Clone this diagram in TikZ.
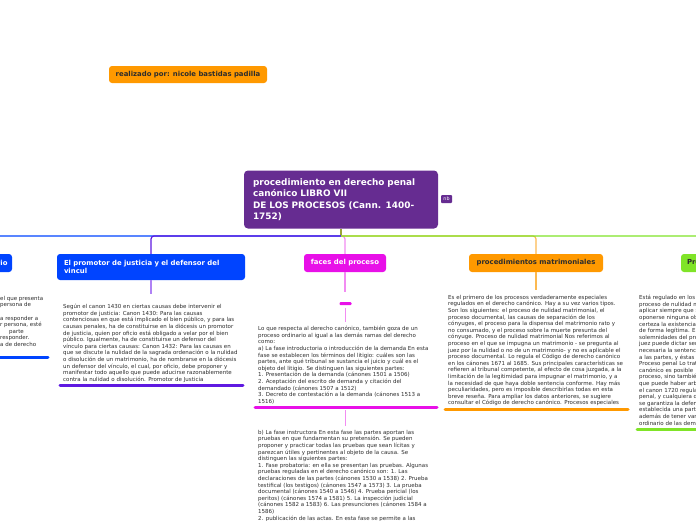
\documentclass[tikz,border=0pt]{standalone}
\usepackage{fontspec}
\setmainfont{DejaVu Sans}
\definecolor{cpurple}{RGB}{102,44,145}
\definecolor{colive}{RGB}{155,165,55}
\definecolor{cblue}{RGB}{0,68,255}
\definecolor{cviolet}{RGB}{95,25,225}
\definecolor{cviolight}{RGB}{175,130,245}
\definecolor{cmag}{RGB}{232,16,232}
\definecolor{cpink}{RGB}{242,140,242}
\definecolor{corange}{RGB}{255,153,0}
\definecolor{corlight}{RGB}{252,185,80}
\definecolor{cgreen}{RGB}{128,228,40}
\definecolor{ctext}{RGB}{45,45,45}
\tikzset{
  topic/.style={rounded corners=3pt, inner sep=0pt, font=\bfseries\fontsize{6.9}{8.4}\selectfont},
  body/.style={anchor=north west, inner sep=0pt, align=left, text=ctext, font=\fontsize{5.5}{6.6}\selectfont},
  conn/.style={line width=1.2pt, rounded corners=3pt},
  uline/.style={line width=3pt, line cap=round},
  stub/.style={line width=1.6pt},
}
\begin{document}
\begin{tikzpicture}[x=1pt,y=-1pt]
\useasboundingbox (0,0) rectangle (696,520);
\clip (0,0) rectangle (696,520);
\fill[white] (0,0) rectangle (696,520);

% author
\node[topic, fill=corange, text=ctext, minimum width=158pt, minimum height=17pt] (author) at (188,74.5) {realizado por: nicole bastidas padilla};

% root
\node[fill=cpurple, rounded corners=4pt, minimum width=194pt, minimum height=58pt, text width=176pt, inner xsep=9pt, inner ysep=0pt, align=left, text=white, font=\bfseries\fontsize{8.9}{11.4}\selectfont] (root) at (341,199.5) {procedimiento en derecho penal\\canónico LIBRO VII\\DE LOS PROCESOS (Cann. 1400-\\1752)};
\node[fill=cpurple, rounded corners=1pt, text=white, font=\fontsize{4.8}{5}\selectfont, inner sep=0pt, minimum width=11pt, minimum height=8pt] (nb) at (446.5,199) {nb};

% topics
\node[topic, fill=cblue, text=white, minimum width=104pt, minimum height=18pt, text width=95pt, inner xsep=4.5pt, align=right] (lnode) at (-40,263) {Proceso ordinario};
\node[topic, fill=cblue, text=white, minimum width=188pt, minimum height=26pt, text width=174pt, inner xsep=7pt, align=left] (promo) at (151,267) {El promotor de justicia y el defensor del\\vincul};
\node[topic, fill=cmag, text=white, minimum width=82pt, minimum height=18pt] (faces) at (345,263) {faces del proceso};
\node[topic, fill=corange, text=ctext, minimum width=134pt, minimum height=18pt] (matri) at (536,263) {procedimientos matrimoniales};
\node[topic, fill=cgreen, text=ctext, minimum width=109pt, minimum height=18pt, text width=97pt, inner xsep=6pt, align=left] (espec) at (735.5,263) {Procesos especiales};

% hub and connectors
\coordinate (hub) at (341,236);
\draw[colive, line width=1.6pt] (root.south) -- (hub);
\draw[conn, cblue] (hub) -| (lnode.north);
\draw[conn, cviolet] (hub) -| (promo.north);
\draw[conn, cpink] (hub) -| (faces.north);
\draw[conn, corlight] (hub) -| (matri.north);
\draw[conn, cgreen] (hub) -| (espec.north);

% notes connectors
\coordinate (pe) at (151,294);
\draw[stub, cviolight] (promo.south) -- (pe);
\coordinate (fe) at (345,292);
\draw[stub, cpink] (faces.south) -- (fe);
\node[fill=cmag, rounded corners=1pt, minimum width=12pt, minimum height=3pt, inner sep=0pt] (fbar) at (345.5,303.5) {};
\coordinate (fe2) at (345.5,322);
\draw[stub, cpink] (fbar.south) ++(0,3) -- (fe2);
\coordinate (me) at (536,290);
\draw[stub, corlight] (matri.south) -- (me);

% left text
\node[body] (ltext) at (0,296) {el que presenta\\persona de\\[6.6pt]a responder a\\r persona, esté\\\hspace*{9pt}parte\\responder.\\a de derecho};
\draw[uline, cblue] (-10,357) -- (48,357);

% promotor text
\node[body] (ptext) at (63,304) {Según el canon 1430 en ciertas causas debe intervenir el\\promotor de justicia:  Canon 1430: Para las causas\\contenciosas en que está implicado el bien público, y para las\\causas penales, ha de constituirse en la diócesis un promotor\\de justicia, quien por oficio está obligado a velar por el bien\\público.  Igualmente, ha de constituirse un defensor del\\vínculo para ciertas causas:  Canon 1432: Para las causas en\\que se discute la nulidad de la sagrada ordenación o la nulidad\\o disolución de un matrimonio, ha de nombrarse en la diócesis\\un defensor del vínculo, el cual, por oficio, debe proponer y\\manifestar todo aquello que puede aducirse razonablemente\\contra la nulidad o disolución. Promotor de Justicia};
\draw[uline, cviolet] (60,385) -- (243,385);

% faces text 1
\node[body] (ftext) at (258,326) {Lo que respecta al derecho canónico, también goza de un\\proceso ordinario al igual a las demás ramas del derecho\\como:\\a) La fase introductoria o introducción de la demanda En esta\\fase se establecen los términos del litigio: cuáles son las\\partes, ante qué tribunal se sustancia el juicio y cuál es el\\objeto del litigio. Se distinguen las siguientes partes:\\1. Presentación de la demanda (cánones 1501 a 1506)\\2. Aceptación del escrito de demanda y citación del\\demandado (cánones 1507 a 1512)\\3. Decreto de contestación a la demanda (cánones 1513 a\\1516)};
\draw[uline, cmag] (255,407) -- (437,407);
\coordinate (fs) at (345.5,410);
\coordinate (fe3) at (345.5,426);
\draw[stub, cpink] (fs) -- (fe3);

% faces text 2
\node[body] (ftext2) at (258,430) {b) La fase instructora En esta fase las partes aportan las\\pruebas en que fundamentan su pretensión. Se pueden\\proponer y practicar todas las pruebas que sean lícitas y\\parezcan útiles y pertinentes al objeto de la causa. Se\\distinguen las siguientes partes:\\1. Fase probatoria: en ella se presentan las pruebas. Algunas\\pruebas reguladas en el derecho canónico son: 1. Las\\declaraciones de las partes (cánones 1530 a 1538) 2. Prueba\\testifical (los testigos) (cánones 1547 a 1573) 3. La prueba\\documental (cánones 1540 a 1546) 4. Prueba pericial (los\\peritos) (cánones 1574 a 1581) 5. La inspección judicial\\(cánones 1582 a 1583) 6. Las presunciones (cánones 1584 a\\1586)\\2. publicación de las actas. En esta fase se permite a las};

% matrimoniales text
\node[body] (mtext) at (448,295) {Es el primero de los procesos verdaderamente especiales\\regulados en el derecho canónico. Hay a su vez varios tipos.\\Son los siguientes: el proceso de nulidad matrimonial, el\\proceso documental, las causas de separación de los\\cónyuges, el proceso para la dispensa del matrimonio rato y\\no consumado, y el proceso sobre la muerte presunta del\\cónyuge.  Proceso de nulidad matrimonial  Nos referimos al\\proceso en el que se impugna un matrimonio - se pregunta al\\juez por la nulidad o no de un matrimonio- y no es aplicable el\\proceso documental. Lo regula el Código de derecho canónico\\en los cánones 1671 al 1685. Sus principales características se\\refieren al tribunal competente, al efecto de cosa juzgada, a la\\limitación de la legitimidad para impugnar el matrimonio, y a\\la necesidad de que haya doble sentencia conforme. Hay más\\peculiaridades, pero es imposible describirlas todas en esta\\breve reseña. Para ampliar los datos anteriores, se sugiere\\consultar el Código de derecho canónico. Procesos especiales};
\draw[uline, corange] (445,409) -- (628,409);

% especiales text
\node[body] (etext) at (639,295) {Está regulado en los cánones\\proceso de nulidad matrimonial\\aplicar siempre que se\\oponerse ninguna objeción\\certeza la existencia del\\de forma legítima. En\\solemnidades del proceso\\juez puede dictar sentencia\\necesaria la sentencia\\a las partes, y éstas\\Proceso penal  Lo tratado\\canónico es posible\\proceso, sino también\\que puede haber arbitraje\\el canon 1720 regula\\penal, y cualquiera de\\se garantiza la defensa\\establecida una parte\\además de tener varias\\ordinario de las demandas};
\draw[uline, cgreen] (637,429) -- (710,429);
\end{tikzpicture}
\end{document}
